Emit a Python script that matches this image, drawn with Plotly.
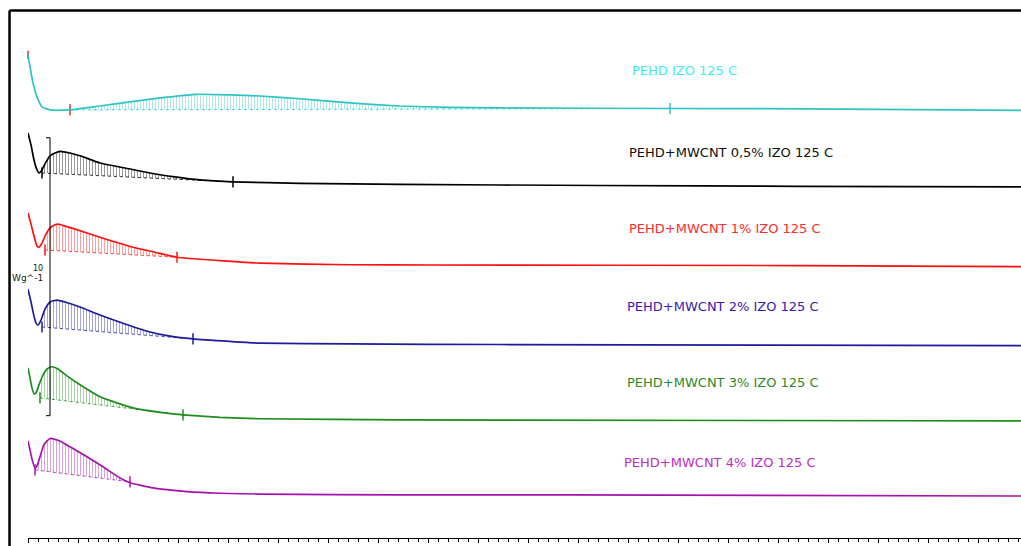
import numpy as np
import plotly.graph_objs as go

# isothermal crystallisation at 125 C, heat flow (W/g) vs time (min), stacked
NAMES = ["PEHD IZO 125 C",
         "PEHD+MWCNT 0,5% IZO 125 C",
         "PEHD+MWCNT 1% IZO 125 C",
         "PEHD+MWCNT 2% IZO 125 C",
         "PEHD+MWCNT 3% IZO 125 C",
         "PEHD+MWCNT 4% IZO 125 C"]

T_PEHD = [0, 0.1, 0.18, 0.28, 0.44, 0.84, 1.44, 2.04, 2.64, 3.38, 4.04, 4.64,
          5.44, 6.44, 7.44, 8.44, 9.44, 12.84, 15.44, 18.54, 19.86]
HF_PEHD = [1.98, 0.97, 0.47, 0.11, 0, 0, 0.14, 0.29, 0.43, 0.56, 0.54, 0.50,
           0.40, 0.25, 0.14, 0.09, 0.07, 0.05, 0.04, 0, -0.02]

T_05 = [0, 0.06, 0.12, 0.18, 0.22, 0.28, 0.36, 0.44, 0.54, 0.64, 0.84, 1.04,
        1.44, 1.94, 2.44, 2.94, 3.44, 4.1, 5.44, 7.44, 11.44, 15.44, 19.86]
HF_05 = [1.94, 1.51, 0.97, 0.61, 0.50, 0.61, 0.90, 1.12, 1.22, 1.28, 1.22, 1.12,
         0.86, 0.68, 0.50, 0.36, 0.25, 0.18, 0.13, 0.09, 0.05, 0.02, 0]

T_1 = [0, 0.06, 0.12, 0.18, 0.22, 0.28, 0.36, 0.44, 0.52, 0.6, 0.74, 0.94,
       1.44, 2.1, 2.54, 2.98, 3.84, 4.64, 6.44, 8.04, 15.44, 19.86]
HF_1 = [1.91, 1.51, 1.08, 0.72, 0.68, 0.83, 1.15, 1.37, 1.47, 1.51, 1.44, 1.33,
        1.04, 0.68, 0.50, 0.32, 0.20, 0.11, 0.05, 0.04, 0.02, -0.02]

T_2 = [0, 0.06, 0.12, 0.16, 0.2, 0.26, 0.34, 0.44, 0.58, 0.74, 1.04, 1.44,
       1.94, 2.44, 2.84, 3.3, 4.04, 4.64, 6.44, 9.44, 19.86]
HF_2 = [2.01, 1.55, 1.04, 0.79, 0.72, 0.90, 1.29, 1.55, 1.62, 1.55, 1.37, 1.08,
        0.76, 0.47, 0.32, 0.22, 0.13, 0.07, 0.04, 0.02, -0.02]

T_3 = [0, 0.04, 0.08, 0.12, 0.16, 0.22, 0.3, 0.38, 0.48, 0.6, 0.78, 1.04,
       1.44, 2.1, 2.64, 3.1, 3.84, 4.64, 7.44, 19.86]
HF_3 = [1.87, 1.51, 1.15, 0.94, 0.97, 1.26, 1.62, 1.83, 1.91, 1.83, 1.58, 1.26,
        0.83, 0.43, 0.27, 0.18, 0.09, 0.04, 0, -0.04]

T_4 = [0, 0.04, 0.08, 0.14, 0.18, 0.24, 0.32, 0.44, 0.64, 0.84, 1.18, 1.5,
       1.84, 2.04, 2.5, 3.18, 3.84, 4.64, 7.44, 10.78, 19.86]
HF_4 = [1.96, 1.64, 1.31, 0.99, 1.06, 1.39, 1.83, 2.05, 1.96, 1.75, 1.39, 1.03,
        0.63, 0.46, 0.27, 0.14, 0.08, 0.05, 0.02, 0.02, -0.02]

TIMES = [T_PEHD, T_05, T_1, T_2, T_3, T_4]
FLOWS = [HF_PEHD, HF_05, HF_1, HF_2, HF_3, HF_4]
OFFSETS = [15.40, 12.63, 9.78, 6.94, 4.25, 1.53]

# integration baselines: t start, hf start, t end, hf end
BASE_T0 = [0.84, 0.28, 0.34, 0.28, 0.24, 0.14]
BASE_H0 = [0.0, 0.50, 0.58, 0.65, 0.79, 0.92]
BASE_T1 = [12.84, 4.10, 2.98, 3.30, 3.10, 2.04]
BASE_H1 = [0.05, 0.18, 0.32, 0.22, 0.18, 0.49]

LINE_COLORS = ["#2fc4c4", "#000000", "#ff1010", "#1c1c9c", "#1f8c1f", "#a414ac"]
TEXT_COLORS = ["#3cf0f0", "#101010", "#ff2a2a", "#3a18b0", "#2a8a2a", "#c02cc0"]
LABEL_X = [12.04, 11.98, 11.98, 11.94, 11.94, 11.88]
LABEL_Y = [16.80, 13.88, 11.15, 8.31, 5.58, 2.73]

SCALE = 10  # W/g
SCALE_T = 0.44
SCALE_Y0 = 4.40

XMAX = 19.86
YMAX = 19.353

fig = go.Figure()

# hatched areas under the exotherms
for i in range(6):
    t = np.array(TIMES[i])
    h = np.array(FLOWS[i]) + OFFSETS[i]
    t0, t1 = BASE_T0[i], BASE_T1[i]
    b0, b1 = BASE_H0[i] + OFFSETS[i], BASE_H1[i] + OFFSETS[i]
    m = (t > t0) & (t < t1)
    seg_t = np.concatenate([[t0], t[m], [t1]])
    seg_h = np.concatenate([[np.interp(t0, t, h)], h[m], [np.interp(t1, t, h)]])
    fig.add_trace(go.Scatter(x=[t0, t1], y=[b0, b1], mode="lines",
                             line=dict(color=LINE_COLORS[i], width=0.8, dash="dot"),
                             showlegend=False, hoverinfo="skip"))
    fig.add_trace(go.Scatter(x=seg_t, y=seg_h, mode="lines", line=dict(width=0),
                             fill="tonexty", fillcolor="rgba(0,0,0,0)",
                             fillpattern=dict(shape="|", fgcolor=LINE_COLORS[i],
                                              fgopacity=0.45, size=3, solidity=0.3,
                                              fillmode="overlay"),
                             showlegend=False, hoverinfo="skip"))
    end_colors = ["#e03030", LINE_COLORS[i]] if i == 0 else [LINE_COLORS[i]] * 2
    fig.add_trace(go.Scatter(x=[t0, t1], y=[b0, b1], mode="markers",
                             marker=dict(symbol="line-ns-open", size=8, color=end_colors,
                                         line=dict(color=end_colors, width=1.5)),
                             showlegend=False, hoverinfo="skip"))

# start marker of the first run
fig.add_trace(go.Scatter(x=[T_PEHD[0]], y=[HF_PEHD[0] + OFFSETS[0]], mode="markers",
                         marker=dict(symbol="line-ns-open", size=6, color="#e03030",
                                     line=dict(color="#e03030", width=1.5)),
                         showlegend=False, hoverinfo="skip", cliponaxis=False))

# curves
for i in range(6):
    fig.add_trace(go.Scatter(x=TIMES[i], y=np.array(FLOWS[i]) + OFFSETS[i],
                             mode="lines", name=NAMES[i],
                             line=dict(color=LINE_COLORS[i], width=1.7,
                                       shape="spline", smoothing=0.5),
                             showlegend=False))
    fig.add_annotation(x=LABEL_X[i], y=LABEL_Y[i],
                       text=NAMES[i], showarrow=False, xanchor="left",
                       font=dict(family="DejaVu Sans", size=13, color=TEXT_COLORS[i]))

# scale bar 10 W/g
fig.add_trace(go.Scatter(x=[SCALE_T - 0.08, SCALE_T, SCALE_T, SCALE_T - 0.08],
                         y=[SCALE_Y0 + SCALE, SCALE_Y0 + SCALE, SCALE_Y0, SCALE_Y0],
                         mode="lines", line=dict(color="black", width=1),
                         showlegend=False, hoverinfo="skip"))
fig.add_annotation(x=0.2, y=9.71, text="10", showarrow=False,
                   font=dict(family="DejaVu Sans", size=8, color="#202020"))
fig.add_annotation(xref="paper", x=-0.001, xanchor="center", y=9.35, text="Wg^-1",
                   showarrow=False,
                   font=dict(family="DejaVu Sans", size=9, color="#202020"))

# frame
fig.add_shape(type="line", xref="paper", yref="paper", x0=-0.0186, x1=1.0,
              y0=0.9805, y1=0.9805, line=dict(color="black", width=2.5))
fig.add_shape(type="line", xref="paper", yref="paper", x0=-0.0186, x1=-0.0186,
              y0=0.9805, y1=-0.02, line=dict(color="black", width=2.5))

fig.update_layout(
    width=1021, height=546,
    margin=dict(l=28, r=0, t=0, b=8),
    paper_bgcolor="white", plot_bgcolor="white",
    showlegend=False,
    xaxis=dict(range=[0, XMAX], showgrid=False, zeroline=False,
               showline=True, linecolor="black", linewidth=1,
               ticks="outside", ticklen=4, tickcolor="black", dtick=1, tick0=0,
               minor=dict(dtick=0.2, ticks="outside", ticklen=3, tickcolor="black"),
               showticklabels=False),
    yaxis=dict(range=[0, YMAX], visible=False),
)

# page has no body margin so the figure sits at the window corner
fig.write_html("out.html", config={"displayModeBar": False},
               post_script="document.body.style.margin='0';document.body.style.overflow='hidden';")
